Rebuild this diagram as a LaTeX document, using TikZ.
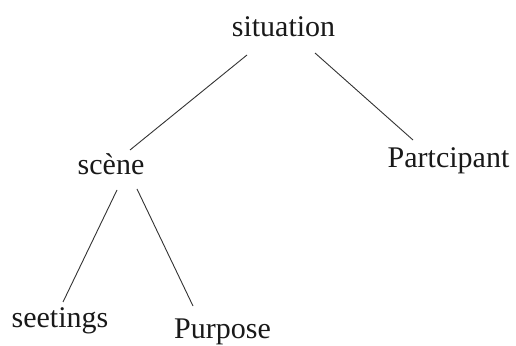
\documentclass[tikz,border=0pt]{standalone}
\usepackage{fontspec}
\setmainfont{Liberation Serif}
\usetikzlibrary{calc}
\begin{document}
\begin{tikzpicture}[x=1pt,y=1pt,
  lbl/.style={anchor=base,inner sep=0pt,font=\fontsize{30}{36}\selectfont,text=black!90},
  edge/.style={line width=0.9pt,draw=black!80}]
\useasboundingbox (0,0) rectangle (516,345);
\node[lbl] (situation) at (283.5,308) {situation};
\node[lbl] (scene) at (111,170) {scène};
\node[lbl] (part) at (448.5,177) {Partcipant};
\node[lbl] (seetings) at (60,17) {seetings};
\node[lbl] (purpose) at (222.5,7) {Purpose};
\draw[edge] ($(situation.base)+(-36.5,-18)$) -- ($(scene.base)+(19,25)$);
\draw[edge] ($(situation.base)+(31.5,-16)$) -- ($(part.base)+(-35.5,28)$);
\draw[edge] ($(scene.base)+(6,-15)$) -- ($(seetings.base)+(3,26)$);
\draw[edge] ($(scene.base)+(26,-14)$) -- ($(purpose.base)+(-29.5,32)$);
\end{tikzpicture}
\end{document}
